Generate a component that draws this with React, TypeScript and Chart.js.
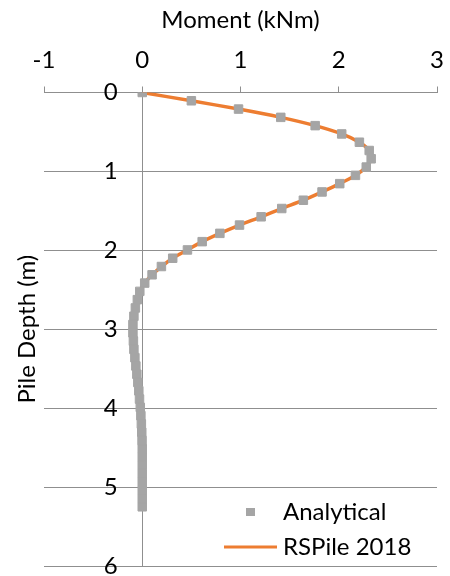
import React, { useEffect, useRef } from 'react';
import { Chart, registerables } from 'chart.js';

Chart.register(...registerables);

// ---- data ----
const X_TITLE = 'Moment (kNm)';
const Y_TITLE = 'Pile Depth (m)';
const SERIES_NAMES = ['Analytical', 'RSPile 2018'];
const X_TICKS = [-1, 0, 1, 2, 3];
const Y_TICKS = [0, 1, 2, 3, 4, 5, 6];

const DEPTHS = [
  0, 0.105, 0.21, 0.315, 0.42, 0.525, 0.63, 0.735, 0.84, 0.945,
  1.05, 1.155, 1.26, 1.365, 1.47, 1.575, 1.68, 1.785, 1.89, 1.995,
  2.1, 2.205, 2.31, 2.415, 2.52, 2.625, 2.73, 2.835, 2.94, 3.045,
  3.15, 3.255, 3.36, 3.465, 3.57, 3.675, 3.78, 3.885, 3.99, 4.095,
  4.2, 4.305, 4.41, 4.515, 4.62, 4.725, 4.83, 4.935, 5.04, 5.145, 5.25,
];

const ANALYTICAL_MOMENT = [
  0, 0.5, 0.98, 1.41, 1.76, 2.03, 2.21, 2.31, 2.33, 2.28,
  2.17, 2.01, 1.83, 1.64, 1.42, 1.21, 0.99, 0.79, 0.61, 0.46,
  0.31, 0.195, 0.1, 0.025, -0.025, -0.05, -0.07, -0.085, -0.095, -0.095,
  -0.09, -0.085, -0.075, -0.065, -0.055, -0.045, -0.035, -0.028, -0.02, -0.014,
  -0.009, -0.005, -0.002, 0, 0, 0, 0, 0, 0, 0, 0,
];

const RSPILE_MOMENT = [
  0, 0.5, 0.98, 1.41, 1.76, 2.03, 2.21, 2.31, 2.33, 2.28,
  2.17, 2.01, 1.83, 1.64, 1.42, 1.21, 0.99, 0.79, 0.61, 0.46,
  0.31, 0.195, 0.1, 0.025, -0.025, -0.05, -0.07, -0.085, -0.095, -0.095,
  -0.09, -0.085, -0.075, -0.065, -0.055, -0.045, -0.035, -0.028, -0.02, -0.014,
  -0.009, -0.005, -0.002, 0, 0, 0, 0, 0, 0, 0, 0,
];

// ---- styles ----
const FONT = 'Lato';
const FS = 24;
const GRID = '#8f8f8f';
const ORANGE = '#ED7D31';
const MARKER = '#A5A5A5';
const TEXT = '#000000';

export default function App() {
  const ref = useRef<HTMLCanvasElement>(null);

  useEffect(() => {
    document.body.style.margin = '0';
    const canvas = ref.current;
    if (!canvas) return;

    const sq = document.createElement('canvas');
    sq.width = 53; sq.height = 10;
    const c1 = sq.getContext('2d')!;
    c1.fillStyle = MARKER;
    c1.fillRect(22, 1, 9, 8);

    const ln = document.createElement('canvas');
    ln.width = 53; ln.height = 4;
    const c2 = ln.getContext('2d')!;
    c2.fillStyle = ORANGE;
    c2.fillRect(0, 0.5, 53, 3);

    const legendPos = {
      id: 'legendPos',
      afterLayout(chart: any) {
        const lg = chart.legend;
        if (!lg) return;
        lg.left = 219;
        lg.top = 489;
        lg.right = 219 + lg.width;
        lg.height = 150;
        lg.bottom = 489 + 150;
      },
    };

    const tickSetter = (vals: number[]) => (axis: any) => {
      axis.ticks = vals.map((v) => ({ value: v }));
    };

    const chart = new Chart(canvas, {
      type: 'scatter',
      data: {
        datasets: [
          {
            label: SERIES_NAMES[0],
            data: DEPTHS.map((d, i) => ({ x: ANALYTICAL_MOMENT[i], y: d })),
            showLine: false,
            pointStyle: 'rect',
            pointRadius: 6,
            pointBackgroundColor: MARKER,
            pointBorderColor: MARKER,
            pointBorderWidth: 1,
            yAxisID: 'y',
            xAxisID: 'x',
          },
          {
            label: SERIES_NAMES[1],
            data: DEPTHS.map((d, i) => ({ x: RSPILE_MOMENT[i], y: d })),
            showLine: true,
            borderColor: ORANGE,
            borderWidth: 3.5,
            pointRadius: 0,
            tension: 0.3,
            yAxisID: 'y',
            xAxisID: 'x',
          },
        ],
      },
      options: {
        responsive: false,
        animation: false,
        layout: { padding: { left: 0, top: 0, right: 13, bottom: 10 } },
        scales: {
          x: {
            type: 'linear',
            position: 'top',
            min: X_TICKS[0],
            max: X_TICKS[X_TICKS.length - 1],
            afterBuildTicks: tickSetter(X_TICKS),
            ticks: { font: { family: FONT, size: FS, lineHeight: 1.875 }, color: TEXT, padding: 4 },
            grid: {
              color: (ctx: any) => (ctx.tick && ctx.tick.value === 0 ? GRID : 'rgba(0,0,0,0)'),
              tickColor: GRID,
              tickLength: 6,
              drawTicks: true,
              drawOnChartArea: true,
            },
            border: { display: true, color: GRID },
            title: {
              display: true,
              text: X_TITLE,
              font: { family: FONT, size: FS, lineHeight: 1 },
              color: TEXT,
              padding: { top: 8, bottom: 1.5 },
            },
          },
          y: {
            type: 'linear',
            position: 'left',
            reverse: true,
            min: Y_TICKS[0],
            max: Y_TICKS[Y_TICKS.length - 1],
            afterBuildTicks: tickSetter(Y_TICKS),
            ticks: { display: false },
            grid: { color: GRID, drawTicks: false },
            border: { display: false },
            title: {
              display: true,
              text: Y_TITLE,
              font: { family: FONT, size: FS, lineHeight: 1 },
              color: TEXT,
              padding: { top: 15, bottom: 5 },
            },
          },
          y2: {
            type: 'linear',
            axis: 'y',
            position: { x: -0.25 },
            reverse: true,
            min: Y_TICKS[0],
            max: Y_TICKS[Y_TICKS.length - 1],
            afterBuildTicks: tickSetter(Y_TICKS),
            ticks: { font: { family: FONT, size: FS, lineHeight: 0.8 }, color: TEXT, padding: 0 },
            grid: { display: false },
            border: { display: false },
          },
        } as any,
        plugins: {
          tooltip: { enabled: false },
          legend: {
            position: 'chartArea' as any,
            align: 'start',
            labels: {
              usePointStyle: true,
              pointStyleWidth: 41,
              boxHeight: FS,
              padding: 11,
              font: { family: FONT, size: FS },
              color: TEXT,
              generateLabels: () => [
                { text: SERIES_NAMES[0], pointStyle: sq as any, fillStyle: MARKER, strokeStyle: MARKER, lineWidth: 0, hidden: false, datasetIndex: 0, fontColor: TEXT },
                { text: SERIES_NAMES[1], pointStyle: ln as any, fillStyle: ORANGE, strokeStyle: ORANGE, lineWidth: 0, hidden: false, datasetIndex: 1, fontColor: TEXT },
              ],
            },
          },
        },
      },
      plugins: [legendPos],
    } as any);

    return () => chart.destroy();
  }, []);

  return <canvas ref={ref} width={450} height={576} style={{ display: 'block' }} />;
}
